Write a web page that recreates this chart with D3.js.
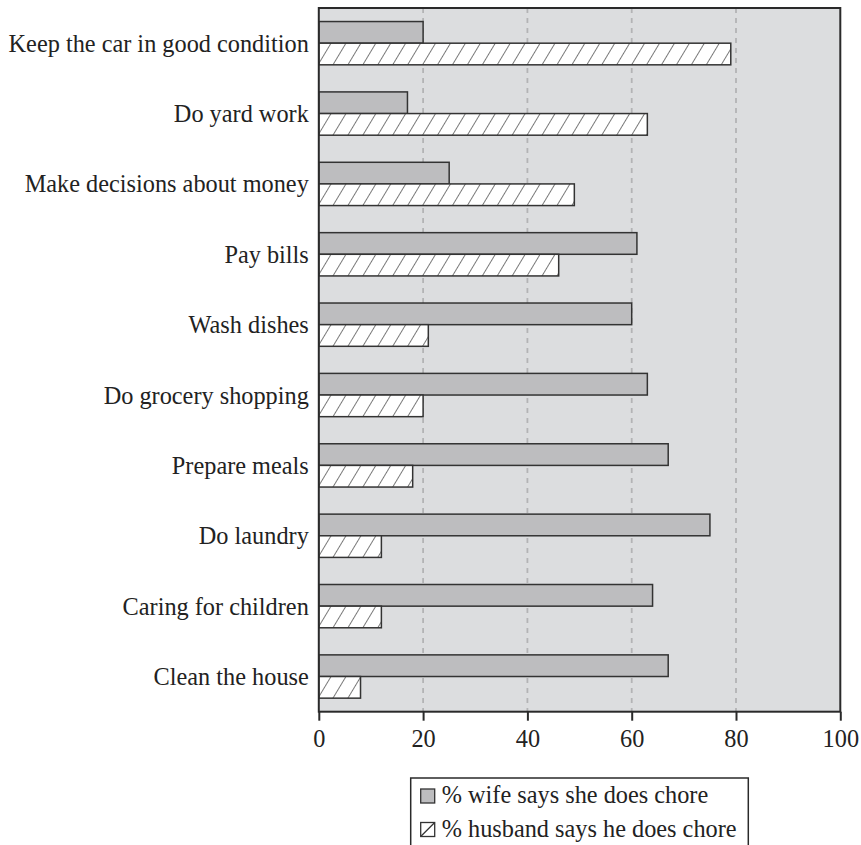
<!DOCTYPE html>
<html>
<head>
<meta charset="utf-8">
<script src="https://cdn.jsdelivr.net/npm/d3@7"></script>
<style>
  html, body { margin: 0; padding: 0; background: #fff; }
  svg { display: block; }
  text { font-family: "Liberation Serif", "Times New Roman", serif; fill: #222; }
</style>
</head>
<body>
<svg id="chart" width="861" height="845"></svg>
<script>
const categories = [
  "Keep the car in good condition",
  "Do yard work",
  "Make decisions about money",
  "Pay bills",
  "Wash dishes",
  "Do grocery shopping",
  "Prepare meals",
  "Do laundry",
  "Caring for children",
  "Clean the house"
];
const wifeValues    = [20, 17, 25, 61, 60, 63, 67, 75, 64, 67];
const husbandValues = [79, 63, 49, 46, 21, 20, 18, 12, 12, 8];
const seriesKeys = ["wife", "husband"];
const seriesLabels = ["% wife says she does chore", "% husband says he does chore"];
const xTicks = [0, 20, 40, 60, 80, 100];
const gridTicks = [20, 40, 60, 80];

const FONT = 24.3;
const svg = d3.select("#chart");
const mLeft = 318.8, mRight = 840.3, mTop = 8, mBottom = 711.7;

const x = d3.scaleLinear().domain([0, 100]).range([mLeft, mRight]);
const y = d3.scaleBand().domain(categories).range([mTop, mBottom])
  .paddingInner(0.385).paddingOuter(0.1925);
const ySub = d3.scaleBand().domain(seriesKeys).range([0, y.bandwidth()]);

// hatch pattern
const defs = svg.append("defs");
const pat = defs.append("pattern")
  .attr("id", "hatch")
  .attr("patternUnits", "userSpaceOnUse")
  .attr("width", 12.8).attr("height", 13)
  .attr("patternTransform", "rotate(31)");
pat.append("rect").attr("width", 12.8).attr("height", 13).attr("fill", "#fff");
pat.append("line").attr("x1", 0).attr("y1", 0).attr("x2", 0).attr("y2", 13)
  .attr("stroke", "#333").attr("stroke-width", 1.3);

// plot background
svg.append("rect")
  .attr("x", mLeft).attr("y", mTop)
  .attr("width", mRight - mLeft).attr("height", mBottom - mTop)
  .attr("fill", "#dcdddf");

// grid lines
svg.append("g").selectAll("line").data(gridTicks).join("line")
  .attr("x1", d => x(d)).attr("x2", d => x(d))
  .attr("y1", mTop).attr("y2", mBottom)
  .attr("stroke", "#b3b3b5").attr("stroke-width", 1.8)
  .attr("stroke-dasharray", "5,5");

// bars
const rows = categories.map((c, i) => ({ cat: c, wife: wifeValues[i], husband: husbandValues[i] }));
const groups = svg.append("g").selectAll("g").data(rows).join("g")
  .attr("transform", d => `translate(0,${y(d.cat)})`);
groups.selectAll("rect").data(d => seriesKeys.map(k => ({ key: k, value: d[k] }))).join("rect")
  .attr("x", x(0))
  .attr("y", d => ySub(d.key))
  .attr("width", d => x(d.value) - x(0))
  .attr("height", ySub.bandwidth())
  .attr("fill", d => d.key === "wife" ? "#bdbdbf" : "url(#hatch)")
  .attr("stroke", "#333")
  .attr("stroke-width", 1.5);

// plot border
svg.append("rect")
  .attr("x", mLeft).attr("y", mTop)
  .attr("width", mRight - mLeft).attr("height", mBottom - mTop)
  .attr("fill", "none").attr("stroke", "#2a2a2a").attr("stroke-width", 2);

// x axis
const xAxis = svg.append("g")
  .attr("transform", `translate(0,${mBottom})`)
  .call(d3.axisBottom(x).tickValues(xTicks).tickSize(9).tickPadding(9.5).tickFormat(d3.format("d")));
xAxis.select(".domain").remove();
xAxis.selectAll(".tick line").attr("stroke", "#2a2a2a").attr("stroke-width", 2);
xAxis.selectAll(".tick text")
  .attr("font-family", "Liberation Serif, serif")
  .attr("font-size", FONT).attr("fill", "#222");

// category labels
svg.append("g").selectAll("text").data(categories).join("text")
  .attr("x", mLeft - 10)
  .attr("y", d => y(d) + y.bandwidth() / 2)
  .attr("dy", "0.35em")
  .attr("text-anchor", "end")
  .attr("font-size", FONT)
  .text(d => d);

// legend
const lg = svg.append("g");
lg.append("rect")
  .attr("x", 410.7).attr("y", 778)
  .attr("width", 337.6).attr("height", 100)
  .attr("fill", "#fff").attr("stroke", "#2a2a2a").attr("stroke-width", 1.5);
const legendRows = lg.selectAll("g.item").data(seriesKeys).join("g")
  .attr("class", "item")
  .attr("transform", (d, i) => `translate(420.7,${789 + i * 33.5})`);
legendRows.append("rect")
  .attr("width", 14).attr("height", 14)
  .attr("fill", d => d === "wife" ? "#bdbdbf" : "#fff")
  .attr("stroke", "#333").attr("stroke-width", 1.3);
legendRows.filter(d => d === "husband").append("line")
  .attr("x1", 0).attr("y1", 14).attr("x2", 14).attr("y2", 0)
  .attr("stroke", "#333").attr("stroke-width", 1.2);
legendRows.append("text")
  .attr("x", 21).attr("y", 14)
  .attr("font-size", FONT)
  .text((d, i) => seriesLabels[i]);
</script>
</body>
</html>
